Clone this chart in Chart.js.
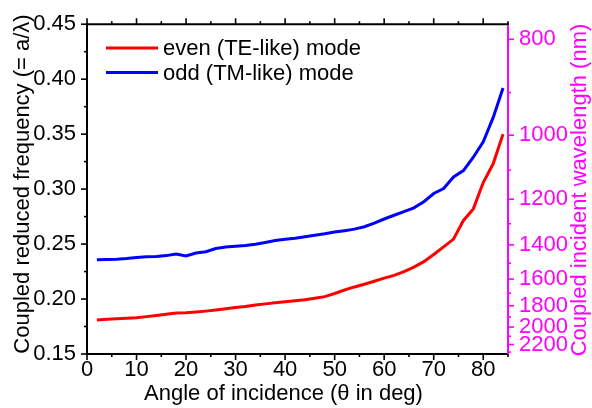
<!DOCTYPE html>
<html><head><meta charset="utf-8">
<script src="https://cdn.jsdelivr.net/npm/chart.js@4"></script>
<style>html,body{margin:0;padding:0;background:#fff;overflow:hidden}</style>
</head><body>
<canvas id="c" width="592" height="408" style="width:592px;height:408px"></canvas>
<script>
// ---- data ----
const angles = [2,4,6,8,10,12,14,16,18,20,22,24,26,28,30,32,34,36,38,40,42,44,46,48,50,52,54,56,58,60,62,64,66,68,70,72,74,76,78,80,82,84];
const evenMode = [0.1810,0.1815,0.1820,0.1825,0.1830,0.1840,0.1850,0.1862,0.1872,0.1876,0.1882,0.1890,0.1900,0.1912,0.1922,0.1932,0.1945,0.1956,0.1966,0.1975,0.1985,0.1993,0.2008,0.2022,0.2050,0.2082,0.2110,0.2135,0.2162,0.2190,0.2215,0.2250,0.2290,0.2340,0.2405,0.2475,0.2545,0.2715,0.2820,0.3060,0.3230,0.3500];
const oddMode = [0.2357,0.2360,0.2363,0.2368,0.2378,0.2384,0.2386,0.2395,0.2410,0.2392,0.2418,0.2430,0.2460,0.2474,0.2480,0.2486,0.2498,0.2515,0.2532,0.2543,0.2553,0.2566,0.2580,0.2593,0.2610,0.2622,0.2636,0.2658,0.2690,0.2728,0.2762,0.2795,0.2830,0.2885,0.2960,0.3005,0.3110,0.3168,0.3290,0.3430,0.3650,0.3920];
const seriesLabels = ['even (TE-like) mode', 'odd (TM-like) mode'];
const xTicks = [0,10,20,30,40,50,60,70,80];
const xMinorTicks = [5,15,25,35,45,55,65,75,85];
const yTicks = [0.15,0.20,0.25,0.30,0.35,0.40,0.45];
const yMinorTicks = [0.175,0.225,0.275,0.325,0.375,0.425];
const wavelengthTicks = [800,1000,1200,1400,1600,1800,2000,2200];
const wavelengthMinorTicks = [900,1100,1300,1500,1700,1900,2100,2300];
const latticeConstant = 349; // nm, frequency = a / wavelength
const xTitle = 'Angle of incidence (\u03b8 in deg)';
const yTitle = 'Coupled reduced frequency (= a/\u03bb)';
const y2Title = 'Coupled incident wavelength (nm)';

const FONT = '"Liberation Sans", Arial, sans-serif';
const MAGENTA = '#ff00ff';

const axesPlugin = {
  id: 'axesPlugin',
  afterDraw(chart) {
    const ctx = chart.ctx;
    const a = chart.chartArea;
    const sx = chart.scales.x, sy = chart.scales.y, sy2 = chart.scales.y2;
    ctx.save();
    ctx.lineCap = 'butt';
    // ticks
    ctx.lineWidth = 1.6;
    ctx.strokeStyle = '#000';
    const tick = (x1,y1,x2,y2) => { ctx.beginPath(); ctx.moveTo(x1,y1); ctx.lineTo(x2,y2); ctx.stroke(); };
    xTicks.forEach(v => { const p = sx.getPixelForValue(v); tick(p, a.bottom, p, a.bottom + 6); tick(p, a.top, p, a.top - 6); });
    xMinorTicks.forEach(v => { const p = sx.getPixelForValue(v); tick(p, a.bottom, p, a.bottom + 3); tick(p, a.top, p, a.top - 3); });
    yTicks.forEach(v => { const p = sy.getPixelForValue(v); tick(a.left, p, a.left - 6, p); });
    yMinorTicks.forEach(v => { const p = sy.getPixelForValue(v); tick(a.left, p, a.left - 3, p); });
    ctx.strokeStyle = MAGENTA;
    wavelengthTicks.forEach(l => { const p = sy2.getPixelForValue(latticeConstant / l); tick(a.right, p, a.right + 6, p); });
    wavelengthMinorTicks.forEach(l => { const p = sy2.getPixelForValue(latticeConstant / l); tick(a.right, p, a.right + 3, p); });
    // axis lines
    ctx.lineWidth = 2;
    ctx.strokeStyle = '#000';
    tick(a.left, a.top - 1, a.left, a.bottom + 1);
    tick(a.left - 1, a.bottom, a.right, a.bottom);
    tick(a.left - 1, a.top, a.right + 1, a.top);
    ctx.strokeStyle = MAGENTA;
    tick(a.right, a.top + 1, a.right, a.bottom);
    // legend
    ctx.font = '22px ' + FONT;
    ctx.textBaseline = 'middle';
    ctx.textAlign = 'left';
    chart.data.datasets.forEach((ds, i) => {
      const y = 48 + i * 24.5;
      ctx.strokeStyle = ds.borderColor;
      ctx.lineWidth = 3;
      tick(106, y, 158, y);
      ctx.fillStyle = '#000';
      ctx.fillText(ds.label, 163, y + 1);
    });
    // axis titles
    ctx.textAlign = 'center';
    ctx.textBaseline = 'alphabetic';
    ctx.fillStyle = '#000';
    ctx.fillText(xTitle, 283.5, 400);
    ctx.save();
    ctx.translate(28.5, 184);
    ctx.rotate(-Math.PI / 2);
    ctx.fillText(yTitle, 0, 0);
    ctx.restore();
    ctx.save();
    ctx.fillStyle = MAGENTA;
    ctx.translate(586, 190);
    ctx.rotate(-Math.PI / 2);
    ctx.fillText(y2Title, 0, 0);
    ctx.restore();
    ctx.restore();
  }
};

const tickFont = { family: FONT, size: 22 };

new Chart(document.getElementById('c'), {
  type: 'line',
  data: {
    datasets: [
      { label: seriesLabels[0], data: angles.map((x, i) => ({ x, y: evenMode[i] })), borderColor: '#ff0000', borderWidth: 3, pointRadius: 0, tension: 0, fill: false, yAxisID: 'y' },
      { label: seriesLabels[1], data: angles.map((x, i) => ({ x, y: oddMode[i] })), borderColor: '#0000ff', borderWidth: 3, pointRadius: 0, tension: 0, fill: false, yAxisID: 'y' }
    ]
  },
  options: {
    responsive: false,
    animation: false,
    devicePixelRatio: 1,
    layout: { padding: { top: 15, left: 0, right: 0, bottom: 0 } },
    plugins: { legend: { display: false }, tooltip: { enabled: false } },
    scales: {
      x: {
        type: 'linear', min: 0, max: 85,
        grid: { display: false, drawTicks: false }, border: { display: false },
        afterBuildTicks: s => { s.ticks = xTicks.map(v => ({ value: v })); },
        afterFit: s => { s.height = 54; },
        ticks: { font: tickFont, color: '#000', padding: 3, maxRotation: 0, autoSkip: false, callback: v => String(v) }
      },
      y: {
        type: 'linear', position: 'left', min: 0.15, max: 0.45,
        grid: { display: false, drawTicks: false }, border: { display: false },
        afterBuildTicks: s => { s.ticks = yTicks.map(v => ({ value: v })); },
        afterFit: s => { s.width = 87; },
        ticks: { font: tickFont, color: '#000', padding: 11, autoSkip: false, callback: v => v.toFixed(2) }
      },
      y2: {
        type: 'linear', position: 'right', min: 0.15, max: 0.45,
        grid: { display: false, drawTicks: false }, border: { display: false },
        afterBuildTicks: s => { s.ticks = wavelengthTicks.map(l => ({ value: latticeConstant / l })); },
        afterFit: s => { s.width = 84; },
        ticks: { font: tickFont, color: MAGENTA, padding: 11, autoSkip: false, callback: (v, i) => String(wavelengthTicks[i]) }
      }
    }
  },
  plugins: [axesPlugin]
});
</script>
</body></html>
